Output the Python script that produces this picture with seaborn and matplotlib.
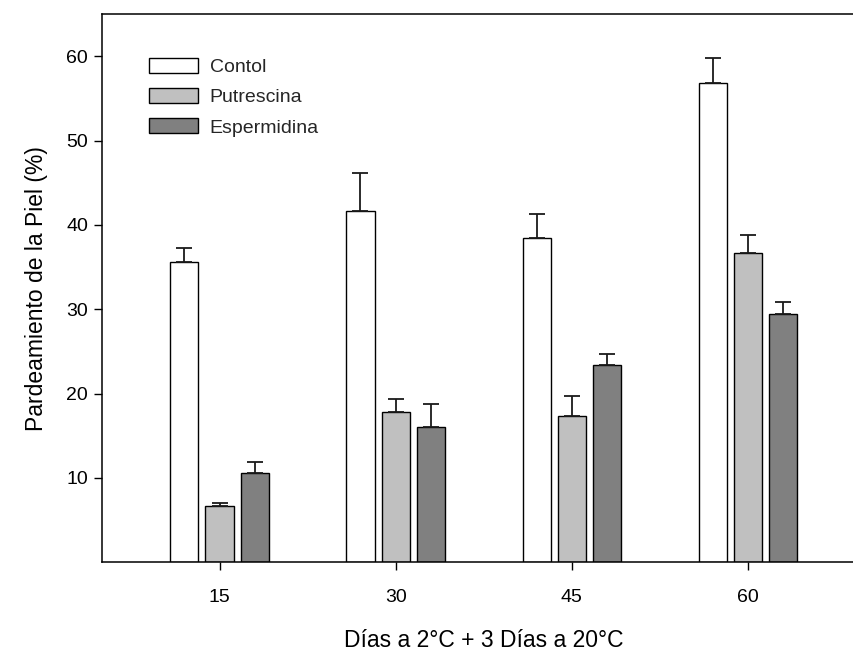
import matplotlib
matplotlib.use("Agg")
import matplotlib.pyplot as plt
import seaborn as sns
import pandas as pd
import numpy as np

dias = ["15", "30", "45", "60"]
tratamientos = ["Contol", "Putrescina", "Espermidina"]
control = [35.6, 41.7, 38.4, 56.8]
putrescina = [6.7, 17.8, 17.3, 36.7]
espermidina = [10.6, 16.0, 23.35, 29.4]
err_control = [1.7, 4.5, 2.9, 3.0]
err_putrescina = [0.3, 1.5, 2.4, 2.1]
err_espermidina = [1.3, 2.8, 1.4, 1.4]
colores = ["#ffffff", "#c0c0c0", "#808080"]

valores = [control, putrescina, espermidina]
errores = [err_control, err_putrescina, err_espermidina]

rows = []
for t, vals in zip(tratamientos, valores):
    for d, v in zip(dias, vals):
        rows.append({"dia": d, "valor": v, "tratamiento": t})
df = pd.DataFrame(rows)

sns.set_theme(style="ticks")
plt.rcParams["font.family"] = ["Liberation Sans", "DejaVu Sans"]

fig = plt.figure(figsize=(8.54, 6.55), dpi=100)
ax = fig.add_axes([102 / 854, 92.7 / 655, (865.5 - 102) / 854, (562.3 - 14) / 655])

sns.barplot(data=df, x="dia", y="valor", hue="tratamiento", order=dias,
            hue_order=tratamientos, palette=colores, errorbar=None,
            width=0.6, gap=0.2, edgecolor="black", linewidth=1.0, ax=ax,
            saturation=1)

for cont, errs in zip(ax.containers, errores):
    xs = [p.get_x() + p.get_width() / 2 for p in cont.patches]
    hs = [p.get_height() for p in cont.patches]
    ax.errorbar(xs, hs, yerr=[np.zeros(len(errs)), errs], fmt="none",
                ecolor="#1a1a1a", elinewidth=1.3, capsize=6, capthick=1.3,
                zorder=3)

ax.set_ylim(0, 65)
ax.set_xlim(-0.667, 3.667)
ax.set_yticks([10, 20, 30, 40, 50, 60])
ax.tick_params(axis="both", direction="out", length=6, width=1, labelsize=14,
               color="black", labelcolor="black")
ax.tick_params(axis="y", pad=4)
ax.tick_params(axis="x", pad=13)
for s in ["left", "bottom", "top"]:
    ax.spines[s].set_visible(True)
    ax.spines[s].set_color("black")
    ax.spines[s].set_linewidth(1.1)
ax.spines["right"].set_visible(False)

ax.set_xlabel("Días a 2°C + 3 Días a 20°C", fontsize=16.5, labelpad=17, color="black")
ax.set_ylabel("Pardeamiento de la Piel (%)", fontsize=16.5, labelpad=13, color="black")

leg = ax.legend(loc="upper left", bbox_to_anchor=(0.062, 0.92), frameon=False,
                fontsize=14, handlelength=2.5, handleheight=0.8,
                handletextpad=0.6, labelspacing=0.62, borderpad=0,
                borderaxespad=0)
for h in leg.legend_handles:
    h.set_edgecolor("black")
    h.set_linewidth(1.0)

fig.savefig("out.png", dpi=100)
